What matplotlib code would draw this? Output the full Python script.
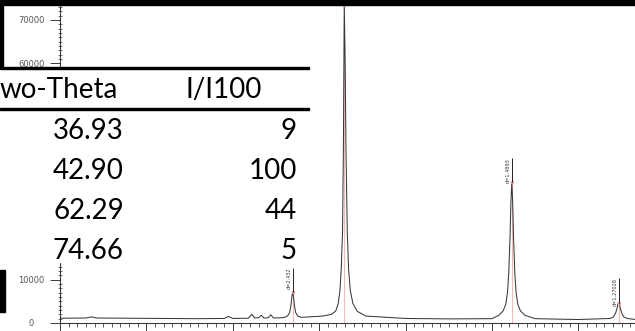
import matplotlib

matplotlib.use("Agg")

import matplotlib.pyplot as plt
from matplotlib.patches import Rectangle
from matplotlib.ticker import MultipleLocator

# ---- data ---------------------------------------------------------------- #
# scan profile (2-theta in deg, counts), sampled by eye along the trace
two_theta = [10.0, 13.0, 13.6, 14.3, 18.0, 22.0, 26.0, 29.0, 29.5, 30.0,
             31.8, 32.2, 32.5, 33.0, 33.3, 33.6, 34.1, 34.4, 34.7,
             35.9, 36.33, 36.58, 36.73, 36.83, 36.93, 37.03, 37.13, 37.28,
             37.53, 37.93,
             40.4, 41.4, 41.9, 42.2, 42.4, 42.55, 42.7, 42.8, 42.9, 43.0,
             43.1, 43.25, 43.4, 43.6, 43.9, 44.4, 45.4,
             50.0, 55.0, 60.0,
             60.8, 61.29, 61.59, 61.79, 61.94, 62.09, 62.19, 62.29, 62.39,
             62.49, 62.64, 62.79, 62.99, 63.29, 63.79,
             65.0, 70.0, 73.66, 74.06, 74.31, 74.46, 74.56, 74.66, 74.76,
             74.86, 75.01, 75.26, 75.66, 76.6]
counts = [1100, 1150, 1400, 1150, 1100, 1050, 1000, 1050, 1500, 1050,
          1100, 2000, 1200, 1200, 1800, 1150, 1200, 1900, 1150,
          1250, 1600, 2400, 4100, 6000, 7200, 6000, 4100, 2400,
          1600, 1300,
          1600, 2000, 2700, 4500, 7500, 12500, 21000, 40000, 73500, 61000,
          40000, 21000, 12500, 7500, 4500, 2700, 1600,
          1050, 950, 1000,
          1800, 2800, 4300, 7000, 11500, 20000, 28000, 32500, 28000,
          20000, 11500, 7000, 4300, 2800, 1800,
          1000, 800, 1050, 1400, 2300, 3300, 4300, 4700, 4300,
          3300, 2300, 1400, 1050, 800]

# picked peaks
peak_pos = [36.93, 42.90, 62.29, 74.66]
peak_top = [7200, 73500, 32500, 4700]
peak_labels = ["d=2.432", None, "d=1.4893", "d=1.27028"]

# overlaid table
tbl_header = ["wo-Theta", "I/I100"]
tbl_theta = ["36.93", "42.90", "62.29", "74.66"]
tbl_rel = ["9", "100", "44", "5"]

W, H = 635, 331
GRAY = "#3a3a3a"
PINK = "#f2bcbc"


def fx(px):
    return px / W


def fy(py):
    return 1 - py / H


fig = plt.figure(figsize=(W / 100, H / 100), dpi=100)
ax = fig.add_axes([fx(60), fy(323), 1 - fx(60), 323 / H])

ax.plot(two_theta, counts, color=GRAY, lw=0.75, zorder=3)
for x, top, lab in zip(peak_pos, peak_top, peak_labels):
    ax.vlines(x, 0, top, color=PINK, lw=0.8, zorder=2)
    ax.plot([x], [top], "o", ms=2.4, color="#ef9a9a", mec="none", zorder=4)
    if lab is None:
        continue
    ax.vlines(x, top, top + 5600, color="black", lw=0.6, zorder=4)
    ax.annotate(lab, xy=(x, top + 5600), xytext=(-0.8, 0),
                textcoords="offset points", rotation=90, ha="right", va="top",
                fontsize=3.6, color=GRAY)

ax.set_xlim(10, 10 + 575 / 8.64)
ax.set_ylim(0, 323 / 43.3 * 10000)
for s in ("top", "right"):
    ax.spines[s].set_visible(False)
for s in ("left", "bottom"):
    ax.spines[s].set_color(GRAY)
    ax.spines[s].set_linewidth(0.8)

ax.xaxis.set_major_locator(MultipleLocator(10))
ax.xaxis.set_minor_locator(MultipleLocator(1))
ax.yaxis.set_major_locator(MultipleLocator(10000))
ax.yaxis.set_minor_locator(MultipleLocator(1000))
ax.tick_params(axis="x", which="major", length=6, width=0.7, color=GRAY,
               labelbottom=False)
ax.tick_params(axis="x", which="minor", length=3, width=0.6, color=GRAY)
ax.tick_params(axis="y", which="major", length=7.2, width=0.7, color=GRAY,
               labelsize=6, labelcolor="#555555", pad=13.5)
ax.tick_params(axis="y", which="minor", length=3, width=0.5, color=GRAY,
               direction="inout")
for t in ax.get_yticklabels():
    t.set_horizontalalignment("center")

# ---- screenshot furniture -------------------------------------------------- #
fig.patches.append(Rectangle((0, fy(5)), 1, 5 / H, transform=fig.transFigure,
                             color="black", zorder=10))
fig.patches.append(Rectangle((0, fy(68)), fx(3), 63 / H,
                             transform=fig.transFigure, color="black", zorder=10))
fig.patches.append(Rectangle((0, fy(312)), fx(5), 42 / H,
                             transform=fig.transFigure, color="black", zorder=10))

# table pasted on top
fig.patches.append(Rectangle((0, fy(262)), fx(308), 194 / H,
                             transform=fig.transFigure, color="white", zorder=11))
for py in (68, 109):
    fig.patches.append(Rectangle((0, fy(py + 1.3)), fx(309), 2.7 / H,
                                 transform=fig.transFigure, color="black",
                                 zorder=12))

tfont = dict(family=["Lato", "DejaVu Sans"], fontsize=20, color="black",
             zorder=13, va="baseline")
fig.text(fx(0), fy(98), tbl_header[0], ha="left", **tfont)
fig.text(fx(185), fy(98), tbl_header[1], ha="left", **tfont)
for i, (a, b) in enumerate(zip(tbl_theta, tbl_rel)):
    base = 139 + 40 * i
    fig.text(fx(124), fy(base), a, ha="right", **tfont)
    fig.text(fx(297), fy(base), b, ha="right", **tfont)

fig.savefig("out.png", dpi=100)
